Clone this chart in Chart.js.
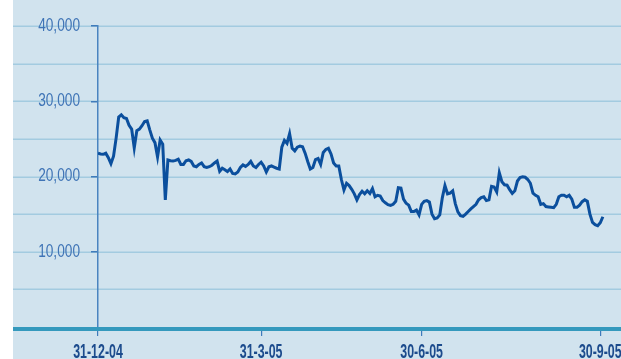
<!DOCTYPE html>
<html>
<head>
<meta charset="utf-8">
<script src="https://cdn.jsdelivr.net/npm/chart.js@4"></script>
<style>
  html, body { margin: 0; padding: 0; background: #fff; }
  #wrap { position: relative; width: 621px; height: 359px; }
</style>
</head>
<body>
<div id="wrap"><canvas id="priceChart"></canvas></div>
<script>
  // daily closes, one per trading day from 31-12-04
  const closes = [
    23100, 23000, 22950, 23100, 22500, 21700, 22700, 25100, 27900, 28200,
    27800, 27700, 26800, 26300, 23800, 26100, 26300, 26750, 27300, 27400,
    26200, 25100, 24500, 22600, 24850, 24300, 16900, 22200, 22100, 22050,
    22150, 22300, 21600, 21600, 22100, 22200, 22000, 21400, 21300, 21600,
    21800, 21300, 21200, 21300, 21500, 21800, 22050, 20700, 21100, 20900,
    20650, 21000, 20400, 20350, 20600, 21200, 21550, 21350, 21600, 22000,
    21400, 21200, 21600, 21900, 21400, 20600, 21300, 21400, 21250, 21100,
    21000, 23900, 24800, 24400, 25700, 23750, 23400, 23900, 24050, 23950,
    23100, 22000, 21000, 21200, 22250, 22400, 21600, 23200, 23600, 23750,
    23000, 21800, 21400, 21400, 19600, 18200, 19100, 18800, 18300, 17700,
    16900, 17600, 18050, 17700, 18100, 17750, 18400, 17300, 17500, 17400,
    16800, 16500, 16250, 16150, 16300, 16700, 18500, 18450, 17000, 16450,
    16200, 15350, 15350, 15550, 14900, 16300, 16700, 16800, 16600, 15000,
    14400, 14500, 14900, 17200, 18800, 17700, 17800, 18100, 16400, 15300,
    14800, 14700, 15000, 15350, 15700, 16000, 16300, 16900, 17200, 17300,
    16800, 16900, 18700, 18600, 17950, 20500, 19300, 18900, 18850, 18250,
    17750, 18100, 19400, 19850, 19950, 19900, 19600, 19100, 17800, 17500,
    17300, 16300, 16400, 16000, 15950, 15900, 15850, 16300, 17300, 17500,
    17500, 17300, 17500, 17000, 15900, 15900, 16200, 16650, 16900, 16700,
    15000, 13900, 13600, 13450, 13850, 14650
  ];

  const dateTickDays = [0, 63, 125, 194];
  const dateTickLabels = ["31-12-04", "31-3-05", "30-6-05", "30-9-05"];
  const valueTicks = [0, 10000, 20000, 30000, 40000];
  const gridValues = [5000, 10000, 15000, 20000, 25000, 30000, 35000, 40000];

  const labelFont = "'Liberation Sans', Arial, sans-serif";

  // the original uses a condensed face; squeeze the axis text horizontally
  const squeezePlugin = {
    id: "squeeze",
    beforeDraw(chart) {
      const c = chart.ctx;
      if (c._squeezed) return;
      const orig = c.fillText.bind(c);
      c.fillText = function (text, x, y, maxW) {
        const f = c.font.indexOf("bold") >= 0 ? 0.62 : 0.76;
        const w = c.measureText(text).width * f;
        return orig(text, x, y, maxW ? Math.min(maxW, w) : w);
      };
      c._squeezed = true;
    },
  };

  // panel background, full width grid lines and the heavy base line
  const panelPlugin = {
    id: "panel",
    beforeDraw(chart) {
      const c = chart.ctx;
      const y = chart.scales.y;
      c.save();
      c.fillStyle = "#ffffff";
      c.fillRect(0, 0, chart.width, chart.height);
      c.fillStyle = "#d1e3ee";
      c.fillRect(13, 0, chart.width - 13, chart.height);
      c.strokeStyle = "#a3cbe0";
      c.lineWidth = 1.5;
      gridValues.forEach((v) => {
        const py = Math.round(y.getPixelForValue(v)) + 0.25;
        c.beginPath();
        c.moveTo(13, py);
        c.lineTo(chart.width, py);
        c.stroke();
      });
      c.restore();
    },
    beforeDatasetsDraw(chart) {
      const c = chart.ctx;
      const py = chart.scales.y.getPixelForValue(0);
      c.save();
      c.fillStyle = "#3499bd";
      c.fillRect(13, py, chart.width - 13, 4);
      c.restore();
    },
  };

  new Chart(document.getElementById("priceChart").getContext("2d"), {
    type: "line",
    data: {
      datasets: [
        {
          data: closes.map((v, i) => ({ x: i, y: v })),
          borderColor: "#0b4f9d",
          borderWidth: 3,
          pointRadius: 0,
          tension: 0,
          fill: false,
        },
      ],
    },
    options: {
      responsive: true,
      maintainAspectRatio: false,
      animation: false,
      layout: { padding: { left: 13, top: 26, right: 0, bottom: 0 } },
      plugins: { legend: { display: false }, tooltip: { enabled: false } },
      scales: {
        x: {
          type: "linear",
          min: 0,
          max: 202,
          afterBuildTicks(scale) {
            scale.ticks = dateTickDays.map((d) => ({ value: d }));
          },
          afterFit(scale) {
            scale.height = 32;
            scale.paddingLeft = 0;
            scale.paddingRight = 0;
          },
          border: { display: false },
          grid: {
            drawOnChartArea: false,
            drawTicks: true,
            tickLength: 9,
            color: "#3f7bbb",
            lineWidth: 1.2,
          },
          ticks: {
            autoSkip: false,
            maxRotation: 0,
            padding: 4,
            color: "#1c4b8d",
            font: { family: labelFont, size: 20, weight: "bold" },
            callback: (v) => dateTickLabels[dateTickDays.indexOf(v)] || "",
          },
        },
        y: {
          min: 0,
          max: 40000,
          afterBuildTicks(scale) {
            scale.ticks = valueTicks.map((v) => ({ value: v }));
          },
          afterFit(scale) {
            scale.width = 85;
          },
          border: { display: true, color: "#4a84c0", width: 1.5 },
          grid: {
            drawOnChartArea: false,
            drawTicks: true,
            tickLength: 7,
            color: (ctx) => (ctx.tick && ctx.tick.value > 0 ? "#3f7bbb" : "transparent"),
            lineWidth: 1.5,
          },
          ticks: {
            padding: 11,
            color: "#3f74b6",
            font: { family: labelFont, size: 18 },
            callback: (v) => (v === 0 ? "" : v.toLocaleString("en-US")),
          },
        },
      },
    },
    plugins: [squeezePlugin, panelPlugin],
  });
</script>
</body>
</html>
